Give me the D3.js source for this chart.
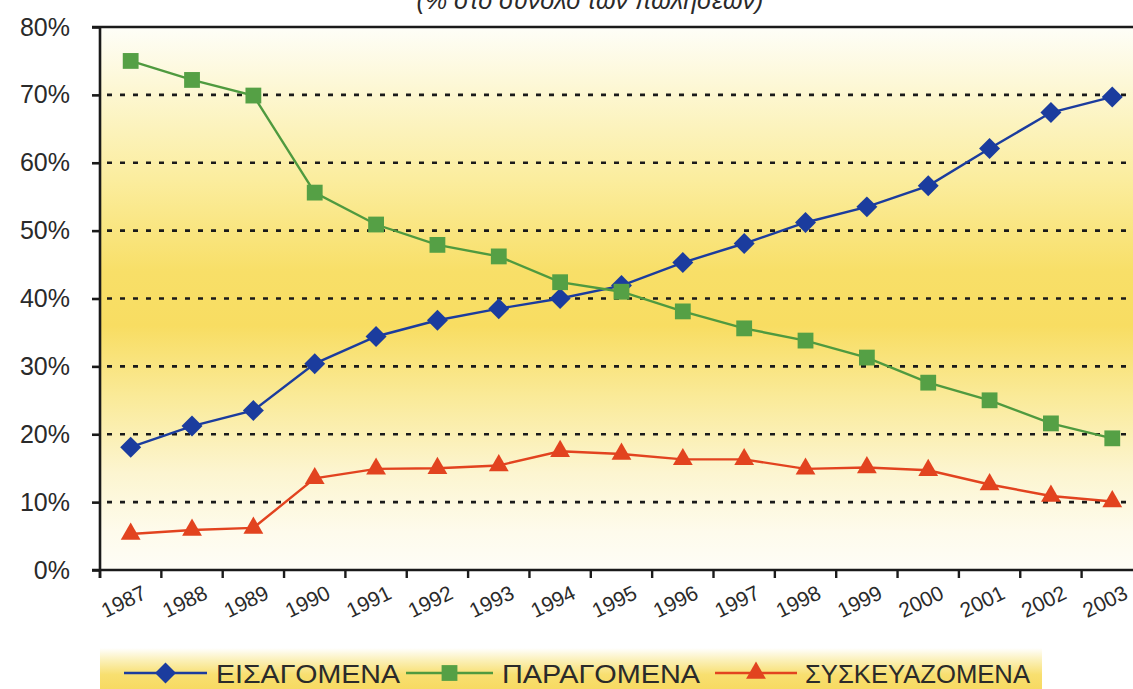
<!DOCTYPE html>
<html>
<head>
<meta charset="utf-8">
<script src="https://cdn.jsdelivr.net/npm/d3@7"></script>
<style>
  html, body { margin: 0; padding: 0; background: #ffffff; }
  svg { display: block; }
  text { font-family: "Liberation Sans", "DejaVu Sans", sans-serif; fill: #2a2a2a; }
</style>
</head>
<body>
<svg id="chart" width="1133" height="689"></svg>
<script>
// Share of sales (%) by year, three product groups
const years = ["1987","1988","1989","1990","1991","1992","1993","1994","1995",
               "1996","1997","1998","1999","2000","2001","2002","2003"];
const imported  = [18.1, 21.2, 23.5, 30.4, 34.4, 36.8, 38.5, 40.0, 41.9,
                   45.3, 48.1, 51.2, 53.5, 56.6, 62.1, 67.4, 69.7];
const produced  = [75.0, 72.2, 69.9, 55.6, 50.9, 47.9, 46.2, 42.4, 41.0,
                   38.1, 35.6, 33.8, 31.3, 27.6, 25.0, 21.6, 19.4];
const packaged  = [5.3, 5.9, 6.2, 13.5, 14.9, 15.0, 15.4, 17.5, 17.1,
                   16.3, 16.3, 14.9, 15.1, 14.7, 12.6, 10.9, 10.1];
const seriesNames = ["ΕΙΣΑΓΟΜΕΝΑ", "ΠΑΡΑΓΟΜΕΝΑ", "ΣΥΣΚΕΥΑΖΟΜΕΝΑ"];
const yTicks = [0, 10, 20, 30, 40, 50, 60, 70, 80];
const titleText = "(% στο σύνολο των πωλήσεων)";

// Rotated-square marker for the first series
const symbolRhombus = {
  draw(context, size) {
    const r = Math.sqrt(size / 2);
    context.moveTo(0, -r); context.lineTo(r, 0); context.lineTo(0, r); context.lineTo(-r, 0); context.closePath();
  }
};

const series = [
  { name: seriesNames[0], values: imported, color: "#1b3c9e", symbol: symbolRhombus, size: 220 },
  { name: seriesNames[1], values: produced, color: "#55a045", stroke: "#4f9a3f", symbol: d3.symbolSquare, size: 250 },
  { name: seriesNames[2], values: packaged, color: "#e2431f", symbol: d3.symbolTriangle, size: 170 }
];

const svg = d3.select("#chart");
const W = 1133, H = 689;
const plotLeft = 100, plotTop = 27, plotBottom = 570;
const band = 61.35;

const x = d3.scaleBand().domain(years).range([plotLeft, plotLeft + band * years.length]).paddingInner(0).paddingOuter(0);
const y = d3.scaleLinear().domain([0, 80]).range([plotBottom, plotTop]);

// Backdrop gradients
const defs = svg.append("defs");
const g1 = defs.append("linearGradient").attr("id", "bg").attr("x1", 0).attr("x2", 0).attr("y1", 0).attr("y2", 1);
[[0, "#fefef8"], [0.1, "#fdf8d8"], [0.28, "#fbed9e"], [0.45, "#f8df68"], [0.55, "#f8dd62"],
 [0.68, "#faea98"], [0.82, "#fcf5d0"], [0.93, "#fefbec"], [1, "#fefdf6"]]
  .forEach(([o, c]) => g1.append("stop").attr("offset", o).attr("stop-color", c));

const g2 = defs.append("linearGradient").attr("id", "legbg").attr("x1", 0).attr("x2", 0).attr("y1", 0).attr("y2", 1);
[[0, "#ffffff"], [0.3, "#fbf0b8"], [0.65, "#f8df70"], [1, "#f7da62"]]
  .forEach(([o, c]) => g2.append("stop").attr("offset", o).attr("stop-color", c));

svg.append("rect").attr("x", plotLeft).attr("y", plotTop).attr("width", W - plotLeft).attr("height", plotBottom - plotTop)
  .attr("fill", "url(#bg)");

// Subtitle at the very top edge
svg.append("text").attr("x", 590).attr("y", 9).attr("text-anchor", "middle")
  .attr("font-style", "italic").attr("font-size", 25).attr("fill", "#333")
  .text(titleText);

// Horizontal gridlines (dotted), top one solid
const grid = svg.append("g");
yTicks.filter(t => t > 0 && t < 80).forEach(t => {
  grid.append("line").attr("x1", plotLeft + 7).attr("x2", W).attr("y1", y(t)).attr("y2", y(t))
    .attr("stroke", "#1a1a1a").attr("stroke-width", 2.6).attr("stroke-dasharray", "5,8");
});
grid.append("line").attr("x1", plotLeft - 8).attr("x2", W).attr("y1", y(80)).attr("y2", y(80))
  .attr("stroke", "#1a1a1a").attr("stroke-width", 2.6);

// Y axis
const yAxis = d3.axisLeft(y).tickValues(yTicks).tickSize(8).tickPadding(22).tickFormat(d => d + "%");
const ya = svg.append("g").attr("transform", `translate(${plotLeft},0)`).call(yAxis);
ya.select(".domain").attr("stroke", "#1a1a1a").attr("stroke-width", 2.6)
  .attr("d", `M0,${plotTop}V${plotBottom + 8}`);
ya.selectAll(".tick line").attr("stroke", "#1a1a1a").attr("stroke-width", 2.6);
ya.selectAll(".tick text").attr("font-size", 25).attr("fill", "#2a2a2a")
  .attr("font-family", "'Liberation Sans', sans-serif");

// X axis: ticks at category boundaries
const boundaries = d3.range(years.length + 1).map(i => plotLeft + i * band);
const xa = svg.append("g");
xa.append("line").attr("x1", plotLeft - 8).attr("x2", W).attr("y1", plotBottom).attr("y2", plotBottom)
  .attr("stroke", "#1a1a1a").attr("stroke-width", 2.6);
xa.selectAll("line.tk").data(boundaries).join("line").attr("class", "tk")
  .attr("x1", d => d).attr("x2", d => d).attr("y1", plotBottom).attr("y2", plotBottom + 8)
  .attr("stroke", "#1a1a1a").attr("stroke-width", 2.4);
xa.selectAll("text.yr").data(years).join("text").attr("class", "yr")
  .attr("text-anchor", "middle")
  .attr("font-size", 21)
  .attr("transform", d => `translate(${x(d) + x.bandwidth() / 2 - 4},${plotBottom + 38}) rotate(-26)`)
  .text(d => d);

// Lines and markers
const cx = d => x(d) + x.bandwidth() / 2;
series.forEach(s => {
  const line = d3.line().x((v, i) => cx(years[i])).y(v => y(v));
  svg.append("path").datum(s.values).attr("d", line)
    .attr("fill", "none").attr("stroke", s.stroke || s.color).attr("stroke-width", 2.4);
  const sym = d3.symbol().type(s.symbol).size(s.size);
  svg.append("g").selectAll("path").data(s.values).join("path")
    .attr("d", sym)
    .attr("transform", (v, i) => `translate(${cx(years[i])},${y(v)})`)
    .attr("fill", s.color);
});

// Legend
svg.append("rect").attr("x", plotLeft).attr("y", 648).attr("width", 942).attr("height", 41)
  .attr("fill", "url(#legbg)");
const legendItems = [
  { s: series[0], x0: 124, x1: 207, tx: 216, w: 184 },
  { s: series[1], x0: 406, x1: 493, tx: 502, w: 198 },
  { s: series[2], x0: 715, x1: 797, tx: 805, w: 225 }
];
const ly = 673;
legendItems.forEach(it => {
  const g = svg.append("g");
  g.append("line").attr("x1", it.x0).attr("x2", it.x1).attr("y1", ly).attr("y2", ly)
    .attr("stroke", it.s.stroke || it.s.color).attr("stroke-width", 2.6);
  g.append("path").attr("d", d3.symbol().type(it.s.symbol).size(it.s.size)())
    .attr("transform", `translate(${(it.x0 + it.x1) / 2},${ly})`).attr("fill", it.s.color);
  g.append("text").attr("x", it.tx).attr("y", ly + 10).attr("font-size", 26)
    .attr("textLength", it.w).attr("lengthAdjust", "spacingAndGlyphs")
    .attr("fill", "#2a2a2a").text(it.s.name);
});
</script>
</body>
</html>
